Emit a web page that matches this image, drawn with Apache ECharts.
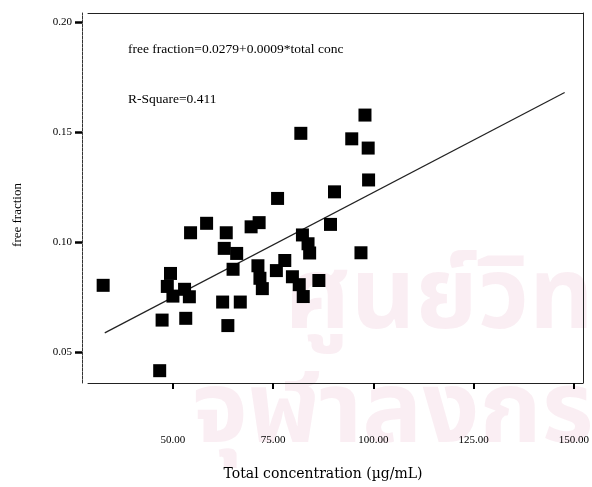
<!DOCTYPE html>
<html>
<head>
<meta charset="utf-8">
<script src="https://cdn.jsdelivr.net/npm/echarts@6/dist/echarts.min.js"></script>
<style>
  html, body { margin: 0; padding: 0; background: #fff; }
  #chart { width: 592px; height: 487px; }
</style>
</head>
<body>
<div id="chart"></div>
<script>
// Total concentration (µg/mL) of each sample
const totalConc = [
  81.9, 90.3, 76.1, 58.4, 54.4, 63.3, 69.5, 71.5, 89.3, 62.8,
  65.9, 82.3, 83.7, 84.1, 65.0, 71.2, 71.7, 72.3, 75.8, 77.9,
  79.8, 81.5, 82.5, 86.4, 32.6, 49.4, 48.6, 50.0, 52.9, 54.1,
  47.3, 53.2, 62.4, 66.8, 63.7, 46.7, 97.9, 94.6, 98.7, 98.8,
  96.9
];
// Matching free fraction
const freeFraction = [
  0.1496, 0.1230, 0.1200, 0.1087, 0.1044, 0.1044, 0.1071, 0.1090, 0.1082, 0.0973,
  0.0950, 0.1034, 0.0994, 0.0952, 0.0878, 0.0894, 0.0837, 0.0790, 0.0872, 0.0918,
  0.0844, 0.0808, 0.0754, 0.0827, 0.0805, 0.0859, 0.0800, 0.0756, 0.0787, 0.0753,
  0.0647, 0.0655, 0.0729, 0.0729, 0.0622, 0.0417, 0.1579, 0.1471, 0.1429, 0.1284,
  0.0953
];
// Fitted regression line end points
const fitX = [33.0, 147.7];
const fitY = [0.0589, 0.1682];

const xTicks = [50, 75, 100, 125, 150];
const yTicks = [0.05, 0.10, 0.15, 0.20];

const equationText = 'free fraction=0.0279+0.0009*total conc';
const rSquareText = 'R-Square=0.411';
const xTitle = 'Total concentration (µg/mL)';
const yTitle = 'free fraction';

const serif = '"Liberation Serif", "DejaVu Serif", serif';
const thaiFont = '"Noto Sans Thai", "Noto Serif Thai", "DejaVu Sans", sans-serif';

const points = totalConc.map((x, i) => [x, freeFraction[i]]);
const fitLine = fitX.map((x, i) => [x, fitY[i]]);

const chart = echarts.init(document.getElementById('chart'));
chart.setOption({
  backgroundColor: '#fff',
  animation: false,
  grid: { left: 88, right: 7, top: 13, bottom: 104 },
  graphic: [
    {
      type: 'text', left: 128, top: 42, z: 10,
      style: { text: equationText, font: '13.5px ' + serif, fill: '#000' }
    },
    {
      type: 'text', left: 128, top: 92, z: 10,
      style: { text: rSquareText, font: '13.5px ' + serif, fill: '#000' }
    },
    {
      type: 'text', x: 323, y: 474, z: 10,
      style: { text: xTitle, font: '14px "DejaVu Serif", serif', fill: '#000', align: 'center', verticalAlign: 'middle' }
    },
    {
      type: 'text', x: 18, y: 215, rotation: Math.PI / 2, z: 10,
      style: { text: yTitle, font: '13px ' + serif, fill: '#000', align: 'center', verticalAlign: 'middle' }
    },
    {
      type: 'text', left: 285, top: 258, z: -10,
      style: { text: 'ศูนย์วิทย', font: 'bold 100px ' + thaiFont, fill: 'rgba(225,150,180,0.16)' }
    },
    {
      type: 'text', left: 192, top: 372, z: -10,
      style: { text: 'จุฬาลงกรณ์', font: 'bold 100px ' + thaiFont, fill: 'rgba(225,150,180,0.16)' }
    }
  ],
  xAxis: [
    {
      type: 'value', min: 28.82, max: 152.23,
      splitLine: { show: false },
      axisLine: { show: true, onZero: false, lineStyle: { color: '#222', width: 1 } },
      axisTick: { show: true, customValues: xTicks, length: 6, lineStyle: { color: '#000', width: 2 } },
      axisLabel: {
        customValues: xTicks, margin: 52, color: '#000',
        fontFamily: serif, fontSize: 11,
        formatter: v => v.toFixed(2)
      }
    },
    {
      type: 'value', position: 'top', min: 28.82, max: 152.23,
      splitLine: { show: false }, axisTick: { show: false }, axisLabel: { show: false },
      axisLine: { show: true, lineStyle: { color: '#222', width: 1 } }
    }
  ],
  yAxis: [
    {
      type: 'value', min: 0.0361, max: 0.2043, offset: 6,
      splitLine: { show: false },
      axisLine: { show: true, onZero: false, lineStyle: { color: '#333', width: 1, type: [3, 1] } },
      axisTick: { show: true, customValues: yTicks, length: 7, lineStyle: { color: '#000', width: 2.5 } },
      axisLabel: {
        customValues: yTicks, margin: 10, color: '#000',
        fontFamily: serif, fontSize: 11,
        formatter: v => v.toFixed(2)
      }
    },
    {
      type: 'value', position: 'right', min: 0.0361, max: 0.2043,
      splitLine: { show: false }, axisTick: { show: false }, axisLabel: { show: false },
      axisLine: { show: true, lineStyle: { color: '#222', width: 1 } }
    }
  ],
  series: [
    {
      type: 'line', data: fitLine, showSymbol: false, symbol: 'none',
      lineStyle: { color: '#222', width: 1.2 }, z: 3
    },
    {
      type: 'scatter', data: points, symbol: 'rect', symbolSize: 13,
      itemStyle: { color: '#000', opacity: 1 }, z: 4
    }
  ]
});
</script>
</body>
</html>
